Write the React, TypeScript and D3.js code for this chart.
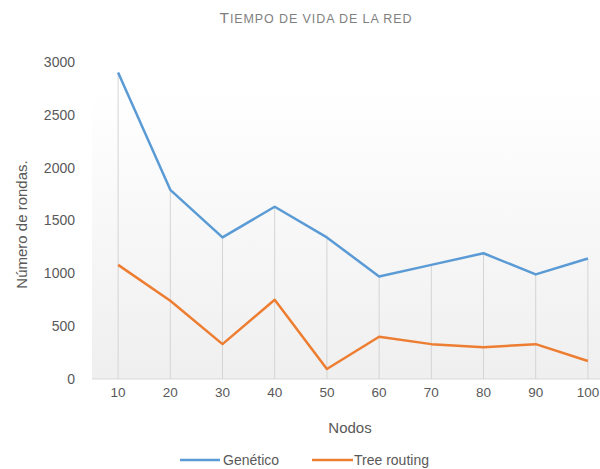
import React, { FC } from 'react'
import * as d3 from 'd3'

const nodos = ['10', '20', '30', '40', '50', '60', '70', '80', '90', '100']
const genetico = [2900, 1790, 1340, 1630, 1340, 970, 1080, 1190, 990, 1140]
const treeRouting = [1080, 740, 330, 750, 95, 400, 330, 300, 330, 170]
const yTicks = [0, 500, 1000, 1500, 2000, 2500, 3000]
const titulo = 'Tiempo de vida de la red'

const series = [
	{ name: 'Genético', values: genetico, color: '#5B9BD5' },
	{ name: 'Tree routing', values: treeRouting, color: '#ED7D31' }
]

const W = 600
const H = 469
const left = 92
const right = 614
const top = 62
const bottom = 379
const font = '"Liberation Sans", Arial, sans-serif'

const App: FC = () => {
	const x = d3.scalePoint<string>().domain(nodos).range([left, right]).padding(0.5)
	const y = d3.scaleLinear().domain([0, 3000]).range([bottom, top])
	const line = d3
		.line<number>()
		.x((_, i) => x(nodos[i]) as number)
		.y((d) => y(d))

	const maxAt = nodos.map((_, i) => Math.max(genetico[i], treeRouting[i]))

	return (
		<svg width={W} height={H} style={{ position: 'absolute', left: 0, top: 0 }}>
			<defs>
				<linearGradient id="bg" x1="0" y1="0" x2="0" y2="1">
					<stop offset="0" stopColor="#ffffff" />
					<stop offset="0.15" stopColor="#ffffff" />
					<stop offset="1" stopColor="#efefef" />
				</linearGradient>
			</defs>
			<rect x={0} y={0} width={W} height={H} fill="#fff" />
			{/* fondo del área */}
			<rect x={left} y={top - 20} width={right - left} height={bottom - top + 20} fill="url(#bg)" />

			{/* título en versalitas */}
			<text x={316} y={23} textAnchor="middle" fontFamily={font} fill="#7f7f7f" letterSpacing={0.9}>
				<tspan fontSize={15.5}>{titulo[0].toUpperCase()}</tspan>
				<tspan fontSize={12.5}>{titulo.slice(1).toUpperCase()}</tspan>
			</text>

			{/* líneas de caída */}
			{nodos.map((n, i) => (
				<line
					key={n}
					x1={x(n)}
					x2={x(n)}
					y1={y(maxAt[i])}
					y2={bottom}
					stroke="#d4d4d4"
					strokeWidth={1}
				/>
			))}
			<line x1={left} x2={right} y1={bottom} y2={bottom} stroke="#d9d9d9" strokeWidth={1} />

			{/* eje y */}
			{yTicks.map((t) => (
				<text
					key={t}
					x={75}
					y={y(t)}
					dy="0.35em"
					textAnchor="end"
					fontFamily={font}
					fontSize={14}
					fill="#595959"
				>
					{t}
				</text>
			))}
			<text
				transform={`translate(22,${(top + bottom) / 2 + 4}) rotate(-90)`}
				dy="0.35em"
				textAnchor="middle"
				fontFamily={font}
				fontSize={15}
				fill="#595959"
			>
				Número de rondas.
			</text>

			{/* eje x */}
			{nodos.map((n) => (
				<text
					key={n}
					x={x(n)}
					y={397}
					textAnchor="middle"
					fontFamily={font}
					fontSize={13.5}
					fill="#595959"
				>
					{n}
				</text>
			))}
			<text x={350} y={433} textAnchor="middle" fontFamily={font} fontSize={15} fill="#595959">
				Nodos
			</text>

			{/* series */}
			{series.map((s) => (
				<path
					key={s.name}
					d={line(s.values) || ''}
					fill="none"
					stroke={s.color}
					strokeWidth={2.5}
					strokeLinejoin="round"
				/>
			))}

			{/* leyenda */}
			<g fontFamily={font} fontSize={14} fill="#595959">
				<line x1={180} x2={220} y1={460} y2={460} stroke={series[0].color} strokeWidth={2.5} />
				<text x={223} y={465}>
					{series[0].name}
				</text>
				<line x1={312} x2={353} y1={460} y2={460} stroke={series[1].color} strokeWidth={2.5} />
				<text x={354} y={465}>
					{series[1].name}
				</text>
			</g>
		</svg>
	)
}

export default App
